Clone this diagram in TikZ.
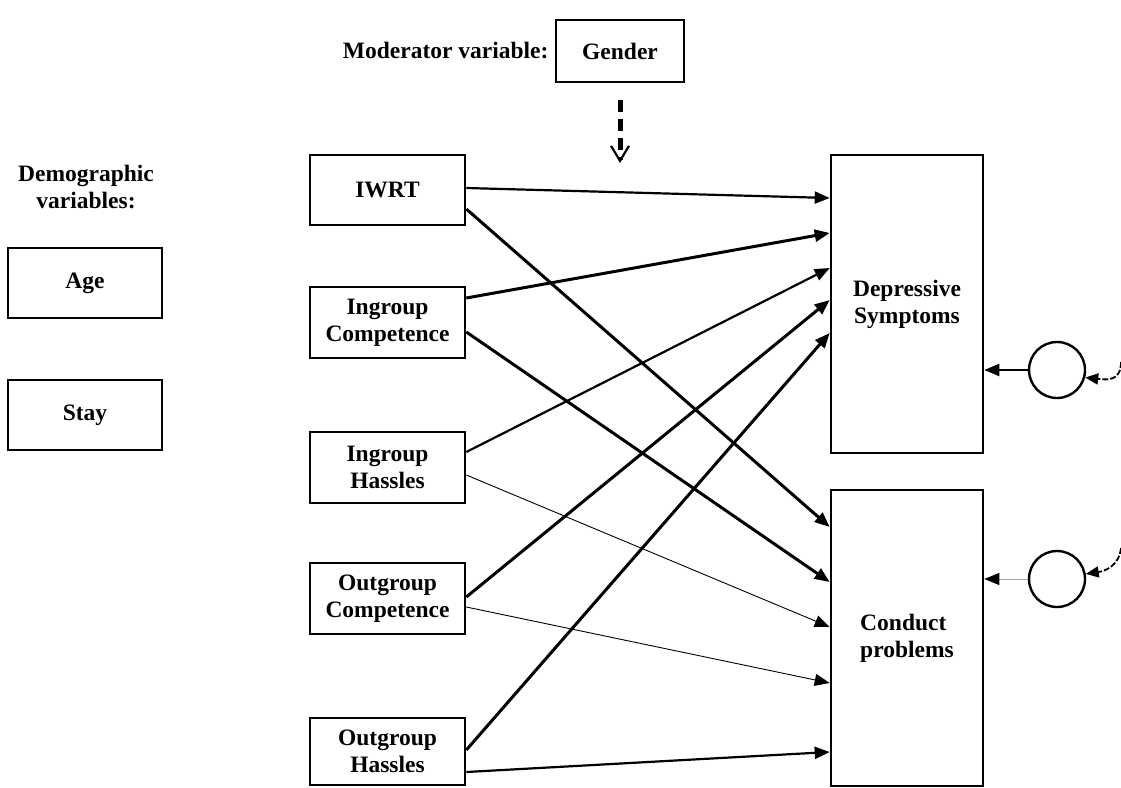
\documentclass[tikz,border=0pt]{standalone}
\usepackage{fontspec}
\setmainfont{Liberation Serif}
\usetikzlibrary{arrows.meta}
\begin{document}
\begin{tikzpicture}[x=1pt,y=-1pt,
  every node/.style={font=\fontsize{23.5}{27}\selectfont\bfseries},
  box/.style={draw, line width=2.6pt, minimum width=155pt, minimum height=70pt, align=center, inner sep=0pt},
  bigbox/.style={draw, line width=2.6pt, minimum width=152pt, inner sep=0pt},
  lat/.style={circle, draw, line width=2.4pt, minimum size=56pt, inner sep=0pt},
  tipa/.style={-{Triangle[length=15pt,width=12pt]}},
  thk/.style={tipa, line width=3pt},
  med/.style={tipa, line width=2.2pt},
  thn/.style={tipa, line width=0.9pt},
  errarrow/.style={line width=1.8pt, dash pattern=on 6pt off 2pt, -{Triangle[length=13pt,width=11pt]}},
]
\useasboundingbox[fill=white] (0,0) rectangle (1121,787);

% moderator
\node[box, minimum width=128pt, minimum height=62pt] (gender) at (620,51) {Gender};
\node[anchor=east] (modl) at (552,51) {Moderator variable:};
\coordinate (gs) at (620,100);
\coordinate (ge) at (620,163);
\draw[line width=5pt, dash pattern=on 12pt off 7pt,
  -{Straight Barb[length=15pt,width=18pt,line width=2.2pt]}] (gs) -- (ge);

% demographics
\node[align=center] (demo) at (86,187) {Demographic\\variables:};
\node[box, minimum width=154pt] (age) at (85,283) {Age};
\node[box, minimum width=154pt] (stay) at (85,415) {Stay};

% predictors
\node[box] (iwrt) at (387.5,190) {IWRT};
\node[box, minimum height=71pt] (incomp) at (387.5,322.5) {Ingroup\\Competence};
\node[box, minimum height=71pt] (inhass) at (387.5,467.5) {Ingroup\\Hassles};
\node[box, minimum height=71pt] (outcomp) at (387.5,598.5) {Outgroup\\Competence};
\node[box, minimum height=67pt] (outhass) at (387.5,751.5) {Outgroup\\Hassles};

% outcomes
\node[bigbox, minimum height=298pt, align=center] (dep) at (907,304) {Depressive\\Symptoms};
\node[bigbox, minimum height=296pt, align=left] (con) at (907,638) {Conduct\\problems};

% residuals
\node[lat] (c1) at (1057,370) {};
\node[lat] (c2) at (1057,579) {};

% paths
\draw[med] (iwrt.east |- 0,188) -- (dep.west |- 0,198);
\draw[thk] (iwrt.east |- 0,209) -- (con.west |- 0,527);
\draw[thk] (incomp.east |- 0,298) -- (dep.west |- 0,233);
\draw[thk] (incomp.east |- 0,332) -- (con.west |- 0,582);
\draw[med] (inhass.east |- 0,452) -- (dep.west |- 0,268);
\draw[thn] (inhass.east |- 0,475) -- (con.west |- 0,627);
\draw[thk] (outcomp.east |- 0,597) -- (dep.west |- 0,300);
\draw[thn] (outcomp.east |- 0,607) -- (con.west |- 0,683);
\draw[thk] (outhass.east |- 0,750) -- (dep.west |- 0,333);
\draw[med] (outhass.east |- 0,772) -- (con.west |- 0,752);

% residual arrows
\draw[med] (c1.west) -- (dep.east |- c1.west);
\draw[line width=0.9pt, draw=gray!70, -{Triangle[length=15pt,width=12pt,black]}] (c2.west) -- (con.east |- c2.west);
\coordinate (e1) at (1121,362);
\coordinate (e2) at (1121,548);
\draw[errarrow] (e1) .. controls (1121,381) and (1108,380) .. (c1.-15);
\draw[errarrow] (e2) .. controls (1119,566) and (1105,571) .. (c2.10);
\end{tikzpicture}
\end{document}
